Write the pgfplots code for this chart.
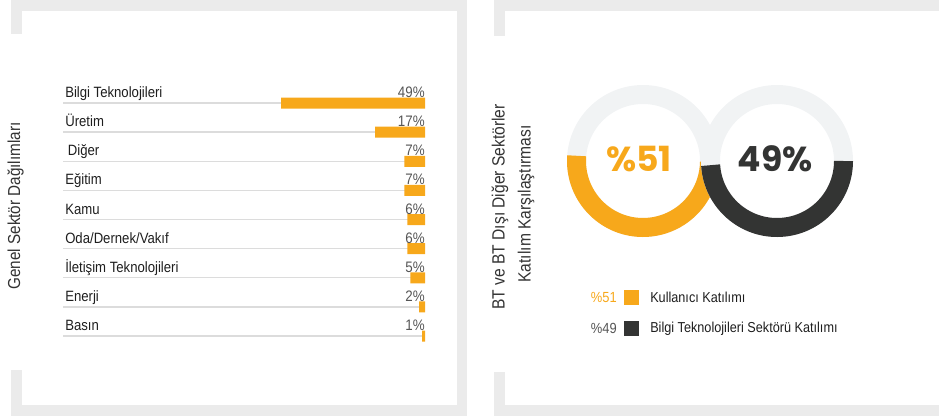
\documentclass[border=0pt]{standalone}
\usepackage{pgfplots}
\pgfplotsset{compat=1.18}
\usepackage{pgfplotstable}
\usepackage{fontspec}
\setmainfont{Liberation Sans}[FakeStretch=0.88]
\newfontfamily\popfont{Poppins}
\definecolor{orangeA}{HTML}{F7A81B}
\definecolor{darkA}{HTML}{333433}
\definecolor{ringG}{HTML}{F1F3F4}
\definecolor{frameG}{HTML}{EBEBEB}
\definecolor{gridG}{HTML}{DCDCDC}
\definecolor{labelC}{HTML}{1E1E1E}
\definecolor{valC}{HTML}{555555}
\definecolor{titleC}{HTML}{333333}

\pgfplotstableread{
idx val
0 49
1 17
2 7
3 7
4 6
5 6
6 5
7 2
8 1
}\sectors

\def\userpct{51}
\def\itpct{49}

\begin{document}
\begin{tikzpicture}[x=0.75pt,y=-0.75pt]
\path[use as bounding box] (0,0) rectangle (939,418);
% frames, left panel
\fill[frameG] (11,0) rectangle (467,11);
\fill[frameG] (457,0) rectangle (467,416);
\fill[frameG] (11,405) rectangle (467,416);
\fill[frameG] (11,0) rectangle (22,34);
\fill[frameG] (11,370) rectangle (22,416);
% frames, right panel
\fill[frameG] (494,0) rectangle (939,11);
\fill[frameG] (494,405) rectangle (939,416);
\fill[frameG] (494,0) rectangle (505,36);
\fill[frameG] (494,372) rectangle (505,416);

% titles
\node[rotate=90, font=\fontsize{13}{15}\selectfont, text=titleC, inner sep=0pt] at (15.5,206) {Genel Sektör Dağılımları};
\node[rotate=90, font=\fontsize{13.3}{15}\selectfont, text=titleC, inner sep=0pt] at (500,207) {BT ve BT Dışı Diğer Sektörler};
\node[rotate=90, font=\fontsize{13.3}{15}\selectfont, text=titleC, inner sep=0pt] at (526,204) {Katılım Karşılaştırması};

% bar chart (bars grow leftwards from the right edge)
\begin{axis}[at={(183pt,-164.625pt)}, anchor=center, scale only axis,
  width=271.5pt, height=174.75pt,
  xmin=-123.2, xmax=0,
  ymin=0, ymax=8, y dir=reverse,
  axis line style={draw=none}, major tick length=0pt,
  xtick=\empty, ytick={0,...,8},
  yticklabels={Bilgi Teknolojileri, Üretim, \hspace{2pt}Diğer, Eğitim, Kamu, Oda/Dernek/Vakıf, İletişim Teknolojileri, Enerji, Basın},
  yticklabel style={anchor=base west, inner sep=0pt, xshift=1.5pt, yshift=4.1pt, font=\fontsize{11.2}{13}\selectfont, text=labelC},
  ymajorgrids, grid style={gridG, line width=1.1pt},
  /pgf/number format/assume math mode=true,
  clip=false]
\addplot[xbar, bar width=8.25pt, fill=orangeA, draw=none] table[x expr=-\thisrow{val}, y=idx]{\sectors};
\addplot[draw=none, mark=none, point meta=explicit,
  nodes near coords={\pgfmathprintnumber{\pgfplotspointmeta}\%},
  every node near coord/.style={anchor=base east, inner sep=0pt, yshift=4.1pt, font=\fontsize{11.4}{13}\selectfont, text=valC}]
  table[x expr=0, y=idx, meta=val]{\sectors};
\end{axis}

% donuts
\begin{axis}[at={(405pt,-45pt)}, anchor=north west, scale only axis,
  width=255pt, height=150pt, xmin=540, xmax=880, ymin=60, ymax=260,
  y dir=reverse, hide axis, clip=false]
\pgfmathsetmacro{\userdeg}{\userpct*3.6}
\pgfmathsetmacro{\itdeg}{\itpct*3.6}
\draw[ringG, line width=14.25pt] (axis cs:643,161) circle[radius=49.875pt];
\draw[orangeA, line width=14.25pt] (axis cs:643,161) ++(175.5:49.875pt) arc[start angle=175.5, delta angle=\userdeg, radius=49.875pt];
\draw[ringG, line width=14.25pt] (axis cs:777,161) circle[radius=49.875pt];
\draw[darkA, line width=14.25pt] (axis cs:777,161) ++(360-\itdeg:49.875pt) arc[start angle=360-\itdeg, delta angle=\itdeg, radius=49.875pt];
\end{axis}

\node[anchor=base, inner sep=0pt, font=\popfont\bfseries\fontsize{26}{30}\selectfont, text=orangeA] at (639,171.5) {\%\userpct};
\node[anchor=base, inner sep=0pt, font=\popfont\bfseries\fontsize{26}{30}\selectfont, text=darkA] at (775,171.5) {\itpct\%};

% legend
\fill[orangeA] (624,290) rectangle (639,305);
\fill[darkA] (624,321) rectangle (639,336);
\node[anchor=east, inner sep=0pt, font=\fontsize{11}{13}\selectfont, text=orangeA] at (617,297.5) {\%\userpct};
\node[anchor=east, inner sep=0pt, font=\fontsize{11}{13}\selectfont, text=valC] at (617,328.5) {\%\itpct};
\node[anchor=west, inner sep=0pt, font=\fontsize{10.8}{13}\selectfont, text=labelC] at (650,297.5) {Kullanıcı Katılımı};
\node[anchor=west, inner sep=0pt, font=\fontsize{10.8}{13}\selectfont, text=labelC] at (650,328.5) {Bilgi Teknolojileri Sektörü Katılımı};
\end{tikzpicture}
\end{document}
